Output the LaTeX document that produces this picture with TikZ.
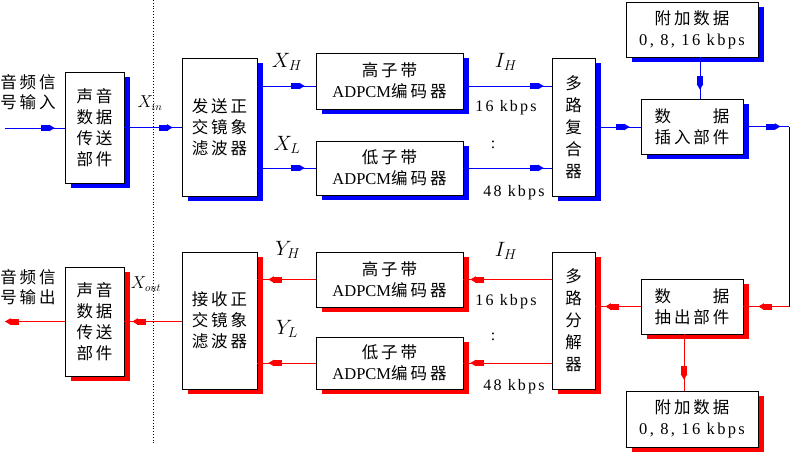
\documentclass[tikz,border=0pt]{standalone}
\usepackage{fontspec}
\setmainfont{Liberation Serif}
\newfontfamily\cjk{Noto Sans CJK SC}[LetterSpace=18]
\newfontfamily\kbf{Liberation Serif}[LetterSpace=14]
\usetikzlibrary{shadows,decorations.markings}
\newlength\jw
\begin{document}
\begin{tikzpicture}[x=1pt,y=-1pt,
  box/.style={draw=black, line width=0.8pt, fill=white, inner sep=0pt, align=center,
    font=\cjk\fontsize{16.5}{21}\selectfont},
  bsh/.style={drop shadow={shadow xshift=6pt, shadow yshift=-5pt, fill=blue, opacity=1}},
  rsh/.style={drop shadow={shadow xshift=6pt, shadow yshift=-5pt, fill=red, opacity=1}},
  bl/.style={blue, line width=0.9pt},
  rd/.style={red, line width=0.9pt},
  mk/.style={postaction={decorate}, decoration={markings, mark=at position #1 with {
      \fill (-14pt,-3pt) rectangle (-5pt,3pt);
      \fill (-5.5pt,-3.3pt) -- (0pt,0pt) -- (-5.5pt,3.3pt) -- cycle;}}},
  lab/.style={font=\cjk\fontsize{16.5}{20}\selectfont, align=center, inner sep=0pt},
  kb/.style={font=\kbf\fontsize{16}{16}\selectfont, inner sep=0pt},
  mth/.style={font=\fontsize{20}{20}\selectfont, inner sep=0pt}
]
\useasboundingbox (0,0) rectangle (793,452);

% dotted separator
\draw[black, dotted, line width=0.8pt] (153,0) -- (153,445);

% labels
\node[lab] (tin) at (28,92) {音频信\\号输入};
\node[lab] (tout) at (28,287) {音频信\\号输出};
\node[mth, font=\fontsize{16}{16}\selectfont] (lxin) at (150,103) {$X_{in}$};
\node[mth, font=\fontsize{16}{16}\selectfont] (lxout) at (146,284) {$X_{out}$};
\node[mth] (lxh) at (287,62) {$X_H$};
\node[mth] (lxl) at (287,145) {$X_L$};
\node[mth] (lih) at (506,62) {$I_H$};
\node[mth] (lyh) at (288,250) {$Y_H$};
\node[mth] (lyl) at (287,329) {$Y_L$};
\node[mth] (lih2) at (506,251) {$I_H$};
\node[kb] (k16a) at (506,108) {16 kbps};
\node[kb] (k48a) at (514,193) {48 kbps};
\node[kb] (dota) at (493,145) {:};
\node[kb] (k16b) at (506,302) {16 kbps};
\node[kb] (k48b) at (514,387) {48 kbps};
\node[kb] (dotb) at (493,337) {:};

% upper (transmit) boxes
\node[box,bsh,minimum width=59pt,minimum height=111pt] (sin) at (94.5,127.5) {声音\\数据\\传送\\部件};
\node[box,bsh,minimum width=75pt,minimum height=138pt] (qT) at (219.5,127) {发送正\\交镜象\\滤波器};
\node[box,bsh,minimum width=147pt,minimum height=56pt] (eH) at (389.5,81) {高子带\\{\rmfamily ADPCM}编码器};
\node[box,bsh,minimum width=147pt,minimum height=54pt] (eL) at (389.5,168) {低子带\\{\rmfamily ADPCM}编码器};
\node[box,bsh,minimum width=43pt,minimum height=138pt,font=\cjk\fontsize{16.5}{22}\selectfont] (mux) at (573.5,127) {多\\路\\复\\合\\器};
\node[box,bsh,minimum width=132pt,minimum height=55pt] (aT) at (692,29.5) {附加数据\\{\kbf 0, 8, 16 kbps}};
\node[box,bsh,minimum width=102pt,minimum height=55pt] (ins) at (692,126.5) {\settowidth\jw{插入部件}\hbox to\jw{数\hfill 据}\\插入部件};

% lower (receive) boxes
\node[box,rsh,minimum width=59pt,minimum height=109pt] (sout) at (94.5,321.5) {声音\\数据\\传送\\部件};
\node[box,rsh,minimum width=75pt,minimum height=137pt] (qR) at (219.5,320.5) {接收正\\交镜象\\滤波器};
\node[box,rsh,minimum width=147pt,minimum height=55pt] (dH) at (389.5,279.5) {高子带\\{\rmfamily ADPCM}编码器};
\node[box,rsh,minimum width=147pt,minimum height=52pt] (dL) at (389.5,363) {低子带\\{\rmfamily ADPCM}编码器};
\node[box,rsh,minimum width=43pt,minimum height=137pt,font=\cjk\fontsize{16.5}{22}\selectfont] (dmx) at (573.5,320.5) {多\\路\\分\\解\\器};
\node[box,rsh,minimum width=102pt,minimum height=55pt] (ext) at (692,306.5) {\settowidth\jw{抽出部件}\hbox to\jw{数\hfill 据}\\抽出部件};
\node[box,rsh,minimum width=132pt,minimum height=56pt] (aB) at (692,419) {附加数据\\{\kbf 0, 8, 16 kbps}};

% helper coordinates
\coordinate (inL) at (5,128);
\coordinate (outL) at (5,322);
\coordinate (rt) at (789,128);
\coordinate (hA) at ([yshift=-5pt]eH.west);
\coordinate (hB) at ([yshift=-5pt]eH.east);
\coordinate (av) at ([xshift=8pt]aT.south);
\coordinate (ev) at ([xshift=-8pt]ext.south);

% transmit connectors
\draw[bl,mk=-10pt] (inL) -- (inL -| sin.west);
\draw[bl,mk=-9pt] (sin.east) -- (sin.east -| qT.west);
\draw[bl,mk=-11pt] (qT.east |- hA) -- (hA);
\draw[bl,mk=-11pt] (qT.east |- eL.west) -- (eL.west);
\draw[bl,mk=-8pt] (hB) -- (hB -| mux.west);
\draw[bl,mk=-8pt] (eL.east) -- (eL.east -| mux.west);
\draw[bl,mk=-11pt] (mux.east) -- (mux.east -| ins.west);
\draw[bl,mk=-9pt] (av) -- (av |- ins.north);
\draw[bl,mk=37pt] (ins.east) -- (ins.east -| rt);
\draw[black, line width=0.9pt] (ins.east -| rt) -- (ext.east -| rt);

% receive connectors
\draw[rd,mk=-15pt] (ext.east -| rt) -- (ext.east);
\draw[rd,mk=-10pt] (ext.west) -- (ext.west -| dmx.east);
\draw[rd,mk=-11pt] (ev) -- (ev |- aB.north);
\draw[rd,mk=-7pt] (dH.east -| dmx.west) -- (dH.east);
\draw[rd,mk=-7pt] (dL.east -| dmx.west) -- (dL.east);
\draw[rd,mk=-11pt] (dH.west) -- (dH.west -| qR.east);
\draw[rd,mk=-11pt] (dL.west) -- (dL.west -| qR.east);
\draw[rd,mk=-8pt] (qR.west |- sout.east) -- (sout.east);
\draw[rd,mk=1] (sout.west) -- (sout.west -| outL);
\end{tikzpicture}
\end{document}
